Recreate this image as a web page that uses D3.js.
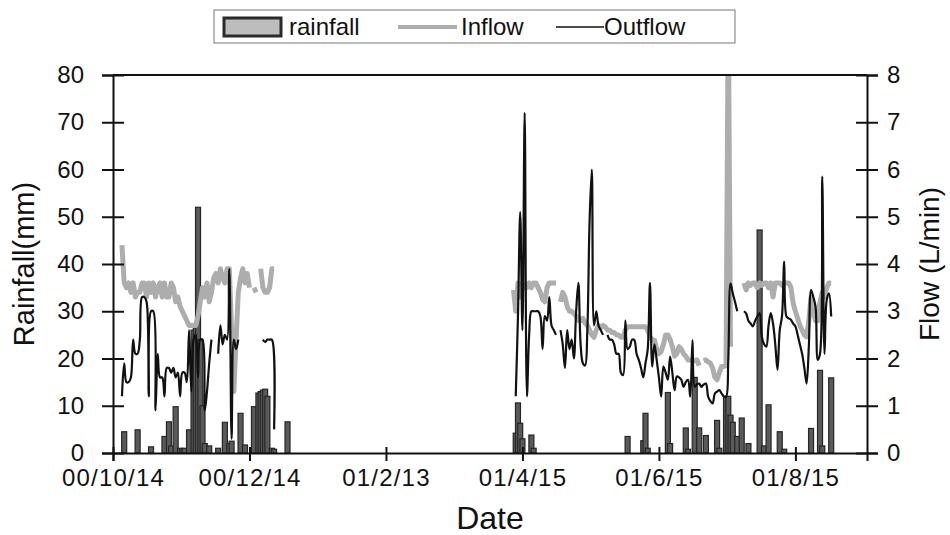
<!DOCTYPE html>
<html>
<head>
<meta charset="utf-8">
<script src="https://cdn.jsdelivr.net/npm/d3@7"></script>
<style>
  body { margin: 0; background: #fff; }
  svg { font-family: "Liberation Sans", Arial, sans-serif; }
</style>
</head>
<body>
<svg id="chart" width="950" height="535"></svg>
<script>
// ---- DATA ----
const tickDates = ["2000-10-14", "2000-12-14", "2001-02-13", "2001-04-15", "2001-06-15", "2001-08-15"];

// daily rainfall (mm)
const rainDates = [
  "2000-10-19", "2000-10-25", "2000-10-31", "2000-11-06", "2000-11-08", "2000-11-09",
  "2000-11-11", "2000-11-13", "2000-11-14", "2000-11-15", "2000-11-17", "2000-11-19",
  "2000-11-20", "2000-11-21", "2000-11-22", "2000-11-23", "2000-11-24", "2000-11-26",
  "2000-11-30", "2000-12-03", "2000-12-05", "2000-12-06", "2000-12-10", "2000-12-12",
  "2000-12-16", "2000-12-18", "2000-12-19", "2000-12-20", "2000-12-21", "2000-12-22",
  "2000-12-24", "2000-12-25", "2000-12-31",
  "2001-04-12", "2001-04-13", "2001-04-14", "2001-04-15", "2001-04-19", "2001-04-20",
  "2001-06-01", "2001-06-08", "2001-06-09", "2001-06-10", "2001-06-19", "2001-06-20",
  "2001-06-27", "2001-06-28", "2001-07-01", "2001-07-03", "2001-07-06", "2001-07-11",
  "2001-07-12", "2001-07-15", "2001-07-16", "2001-07-17", "2001-07-18", "2001-07-20",
  "2001-07-22", "2001-07-25", "2001-07-30", "2001-08-01", "2001-08-03", "2001-08-08",
  "2001-08-10", "2001-08-22", "2001-08-26", "2001-08-27", "2001-08-31"
];
const rainValues = [
  4.5, 4.9, 1.3, 3.5, 6.6, 1.5,
  9.8, 1.0, 0.8, 1.0, 4.9, 26,
  27, 52, 24, 10, 2, 1.5,
  1.0, 6.5, 2, 2.5, 8.4, 1.7,
  9.8, 12.7, 13.0, 13.3, 13.5, 12,
  1, 0.8, 6.6,
  4.2, 10.6, 6.3, 3.0, 3.8, 1.0,
  3.5, 2.6, 8.4, 1.0, 12.8, 2.0,
  5.3, 0.8, 16, 5.3, 3.7, 6.9,
  1, 11.8, 12, 8, 6.5, 3.5,
  7.4, 2.0, 47.2, 1.5, 10.2, 4.5,
  0.8, 5.2, 17.5, 1.5, 15.9
];

// daily flows (L/min); each run starts on the date given, null = no record
const inflowStarts = ["2000-10-18", "2001-04-11"];
const inflow1 = [
  4.4, 3.6, 3.5, 3.6, 3.4, 3.6, 3.3, 3.4, 3.4, 3.6,
  3.6, 3.3, 3.6, 3.4, 3.6, 3.3, 3.5, 3.6, 3.3, 3.6,
  3.3, 3.3, 3.6, 3.5, 3.2, 3.3, 3.1, 3.0, 2.9, 2.8,
  2.7, 2.7, 2.7, 2.7, 2.9, 3.2, 3.5, 3.3, 3.6, 3.2,
  3.4, 3.7, 3.8, 3.6, 3.9, 3.7, 3.6, 3.9, 3.9, 2.6,
  1.3, 2.4, 3.4, 3.7, 3.9, 3.6, 3.8, 3.5, null, 3.5,
  3.4, null, 3.9, 3.5, 3.4, 3.4, 3.5, 3.9, 3.9
];
const inflow2 = [
  3.45, 3.0, 3.6, 3.3, 3.6, 3.5, 3.5, 3.6, 3.5, 3.6,
  3.6, 3.5, 3.4, 3.25, 3.2, 3.5, 3.6, 3.6, 3.6, 3.6,
  null, 3.2, 3.4, 3.3, 3.1, 3.0, 3.0, 2.95, 2.9, 2.8,
  2.8, 2.85, 2.75, 2.7, 2.6, 2.5, 2.45, 2.6, 2.7, 2.65,
  2.7, 2.67, 2.6, 2.6, 2.55, 2.55, 2.5, 2.5, 2.45, 2.45,
  2.6, 2.67, 2.67, 2.67, 2.67, 2.67, 2.67, 2.67, 2.67, 2.67,
  2.6, 2.46, 2.4, 2.39, 2.2, 2.1, 2.15, 2.3, 2.5, 2.5,
  2.4, 2.25, 2.05, 2.1, 2.25, 2.2, 2.1, 2.05, 1.97, 1.97,
  1.97, 1.95, 1.97, 1.85, null, 1.95, 1.97, 1.93, 1.9, 1.8,
  1.6, 1.55, 1.7, 1.83, 1.83, 1.85, 9.5, 2.25, null, null,
  null, null, null, 3.6, 3.45, 3.6, 3.55, 3.6, 3.6, 3.5,
  3.6, 3.55, 3.6, 3.6, 3.5, 3.6, 3.3, 3.6, 3.6, 3.6,
  3.55, 3.6, 3.6, 3.6, 3.5, 3.17, 3.0, 2.85, 2.7, 2.6,
  2.5, 2.46, 2.8, 3.3, 3.0, 2.8, 2.8, 3.2, 3.4, 3.3,
  3.5, 3.6, 3.6
];

const outflowStarts = ["2000-10-18", "2001-04-12"];
const outflow1 = [
  1.2, 1.9, 1.5, 1.5, 1.6, 2.4, 2.1, 2.1, 2.4, 3.3,
  3.3, 3.2, 1.2, 3.0, 3.0, 0.9, 2.1, 1.6, 1.6, 1.2,
  1.8, 1.8, 1.7, 1.8, 1.6, 1.7, 1.2, 1.7, 1.7, 1.5,
  2.6, 1.3, 2.4, 2.5, 1.6, 2.4, 2.4, 0.9, 1.3, 1.9,
  2.4, null, null, 2.1, 2.7, 2.3, 2.5, 2.4, 3.9, 0.3,
  2.4, 2.2, 2.4, null, null, null, null, null, null, null,
  null, null, null, 2.4, 2.35, 2.4, 2.4, 2.4, 0.5
];
const outflow2 = [
  1.2, 2.9, 5.1, 2.6, 7.2, 1.2, 2.5, 3.0, 3.0, 3.0,
  3.0, 2.9, 2.2, 2.9, 2.8, 3.3, 2.7, 2.6, 2.5, null,
  2.6, 2.3, 1.8, 2.6, 2.2, 2.4, 2.0, 3.0, 3.6, 2.3,
  1.9, 1.85, 2.6, 4.9, 6.0, 2.7, 3.0, 2.7, 2.6, 2.5,
  null, 2.5, 2.4, 2.4, 2.3, 2.1, 2.1, 1.7, 1.65, 2.8,
  2.2, 2.25, 2.4, 2.39, 2.1, 1.97, 1.8, 1.6, 1.9, 2.2,
  3.6, 1.83, 2.3, 1.97, 1.6, 1.19, 1.83, 1.7, 1.55, 2.04,
  1.7, 1.33, 1.62, 1.6, 1.55, 1.4, 1.5, 1.55, 1.19, 2.39,
  1.4, 1.45, 1.47, 1.4, 1.45, 1.47, 1.19, 1.1, 1.05, 1.26,
  1.3, 1.33, 1.26, 1.2, 1.19, 1.97, 3.59, 3.38, 3.2, 3.0,
  null, null, 3.0, 2.95, 2.8, 2.74, 2.68, 2.8, 2.89, 2.96,
  2.46, 2.3, 2.25, 2.7, 2.96, 2.74, 2.3, 1.76, 2.6, 2.89,
  4.05, 2.89, 2.85, 2.82, 2.74, 2.68, 2.5, 2.3, 2.1, 1.8,
  1.47, 2.25, 3.45, 3.3, 3.1, 1.97, 2.1, 5.85, 2.1, 3.24,
  3.38, 2.89
];

// ---- LAYOUT ----
const svg = d3.select("#chart");
const L = 113, R = 867, T = 75, B = 453;
const parse = d3.utcParse("%Y-%m-%d");

const x = d3.scaleUtc()
  .domain([parse("2000-10-14"), parse("2001-09-16")])
  .range([L, R]);
const yRain = d3.scaleLinear().domain([0, 80]).range([B, T]);
const yFlow = d3.scaleLinear().domain([0, 8]).range([B, T]);

// turns a run of daily values into {date, v} points
function toSeries(start, values) {
  const s = parse(start);
  return values.map(function(v, i) { return { date: d3.utcDay.offset(s, i), v: v }; });
}

svg.append("clipPath").attr("id", "plotClip")
  .append("rect").attr("x", L).attr("y", T).attr("width", R - L).attr("height", B - T);

const plot = svg.append("g").attr("clip-path", "url(#plotClip)");

// rainfall bars
plot.selectAll("rect.rain")
  .data(rainDates.map(function(d, i) { return { date: parse(d), v: rainValues[i] }; }))
  .enter().append("rect")
  .attr("class", "rain")
  .attr("x", function(d) { return x(d.date) - 2.5; })
  .attr("width", 5)
  .attr("y", function(d) { return yRain(d.v); })
  .attr("height", function(d) { return B - yRain(d.v); })
  .attr("fill", "#5a5a5a")
  .attr("stroke", "#262626")
  .attr("stroke-width", 1.2);

const inLine = d3.line()
  .defined(function(d) { return d.v != null; })
  .x(function(d) { return x(d.date); })
  .y(function(d) { return yFlow(d.v); });

const outLine = d3.line()
  .defined(function(d) { return d.v != null; })
  .x(function(d) { return x(d.date); })
  .y(function(d) { return yFlow(d.v); })
  .curve(d3.curveCatmullRom);

[toSeries(inflowStarts[0], inflow1), toSeries(inflowStarts[1], inflow2)].forEach(function(s) {
  plot.append("path").datum(s)
    .attr("d", inLine)
    .attr("fill", "none")
    .attr("stroke", "#adadad")
    .attr("stroke-width", 5)
    .attr("stroke-linejoin", "round");
});

[toSeries(outflowStarts[0], outflow1), toSeries(outflowStarts[1], outflow2)].forEach(function(s) {
  plot.append("path").datum(s)
    .attr("d", outLine)
    .attr("fill", "none")
    .attr("stroke", "#111")
    .attr("stroke-width", 2.2);
});

// ---- AXES ----
const tickFont = 24;

// frame: top line
svg.append("line").attr("x1", L).attr("x2", R).attr("y1", T).attr("y2", T)
  .attr("stroke", "#111").attr("stroke-width", 2);

const gL = svg.append("g").attr("transform", "translate(" + L + ",0)")
  .call(d3.axisLeft(yRain).tickValues(d3.range(0, 81, 10)).tickSize(11).tickPadding(18));
gL.selectAll(".tick line").attr("x2", -11).attr("x1", 11);

const gR = svg.append("g").attr("transform", "translate(" + R + ",0)")
  .call(d3.axisRight(yFlow).tickValues(d3.range(0, 9, 1)).tickSize(11).tickPadding(9));
gR.selectAll(".tick line").attr("x1", -11).attr("x2", 11);

const gB = svg.append("g").attr("transform", "translate(0," + B + ")")
  .call(d3.axisBottom(x).tickValues(tickDates.map(parse))
    .tickFormat(d3.utcFormat("%y/%-m/%-d")).tickSize(8).tickPadding(8));
gB.selectAll(".tick line").attr("y1", -6).attr("y2", 8);

[gL, gR, gB].forEach(function(g) {
  g.select(".domain").attr("stroke", "#111").attr("stroke-width", 2);
  g.selectAll(".tick line").attr("stroke", "#111").attr("stroke-width", 2);
  g.selectAll(".tick text")
    .attr("font-size", tickFont)
    .attr("font-family", "Liberation Sans, Arial, sans-serif")
    .attr("fill", "#111");
});
gB.selectAll(".tick text").attr("letter-spacing", 1.2);

// axis titles
svg.append("text").attr("x", (L + R) / 2).attr("y", 529)
  .attr("text-anchor", "middle").attr("font-size", 32).attr("fill", "#111")
  .text("Date");

svg.append("text")
  .attr("transform", "translate(24," + ((T + B) / 2) + ") rotate(-90)")
  .attr("text-anchor", "middle").attr("dominant-baseline", "central")
  .attr("font-size", 29).attr("fill", "#111")
  .text("Rainfall(mm)");

svg.append("text")
  .attr("transform", "translate(929," + ((T + B) / 2) + ") rotate(-90)")
  .attr("text-anchor", "middle").attr("dominant-baseline", "central")
  .attr("font-size", 28).attr("fill", "#111")
  .text("Flow (L/min)");

// ---- LEGEND ----
const leg = svg.append("g");
leg.append("rect").attr("x", 214).attr("y", 10).attr("width", 521).attr("height", 33)
  .attr("fill", "#fff").attr("stroke", "#777").attr("stroke-width", 1);
leg.append("rect").attr("x", 224).attr("y", 18).attr("width", 57).attr("height", 18)
  .attr("fill", "#bdbdbd").attr("stroke", "#2b2b2b").attr("stroke-width", 3);
leg.append("text").attr("x", 289).attr("y", 35).attr("font-size", 24).attr("fill", "#111")
  .text("rainfall");
leg.append("line").attr("x1", 398).attr("x2", 457).attr("y1", 27).attr("y2", 27)
  .attr("stroke", "#adadad").attr("stroke-width", 4);
leg.append("text").attr("x", 461).attr("y", 35).attr("font-size", 24).attr("fill", "#111")
  .text("Inflow");
leg.append("line").attr("x1", 556).attr("x2", 604).attr("y1", 27).attr("y2", 27)
  .attr("stroke", "#111").attr("stroke-width", 1.5);
leg.append("text").attr("x", 604).attr("y", 35).attr("font-size", 24).attr("fill", "#111")
  .text("Outflow");
</script>
</body>
</html>
